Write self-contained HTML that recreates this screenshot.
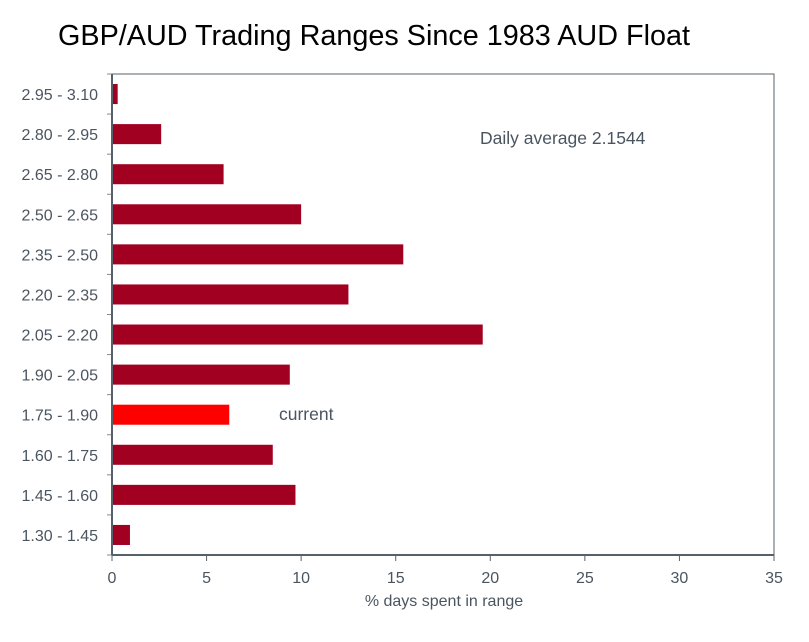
<!DOCTYPE html>
<html><head><meta charset="utf-8"><style>
body{margin:0;background:#fff;width:809px;height:637px;overflow:hidden}
svg text{font-family:"Liberation Sans",sans-serif;fill:#4a5560}
</style></head><body>
<svg id="c" width="809" height="637">
<text x="58" y="45" textLength="632" lengthAdjust="spacingAndGlyphs" style="font-size:29px;fill:#000">GBP/AUD Trading Ranges Since 1983 AUD Float</text>
</svg>
<script>
const categories=["2.95 - 3.10","2.80 - 2.95","2.65 - 2.80","2.50 - 2.65","2.35 - 2.50","2.20 - 2.35","2.05 - 2.20","1.90 - 2.05","1.75 - 1.90","1.60 - 1.75","1.45 - 1.60","1.30 - 1.45"];
const values=[0.3,2.6,5.9,10.0,15.4,12.5,19.6,9.4,6.2,8.5,9.7,0.95];
const highlight=[false,false,false,false,false,false,false,false,true,false,false,false];
const xTicks=[0,5,10,15,20,25,30,35];
const svg=document.getElementById('c');
const NS='http://www.w3.org/2000/svg';
const L=112,R=774,T=74,B=555,XMAX=35;
const x=v=>L+(v/XMAX)*(R-L);
const band=(B-T)/categories.length;
const y=i=>T+i*band;
function mk(t,a){const e=document.createElementNS(NS,t);for(const k in a)e.setAttribute(k,a[k]);svg.appendChild(e);return e;}
let f=mk('rect',{x:L,y:T,width:R-L,height:B-T,fill:'none',stroke:'#56606a','stroke-width':1});


categories.forEach((c,i)=>{
  const b=mk('rect',{x:L+1,y:y(i)+band/4,width:x(values[i])-L-1,height:band/2,fill:highlight[i]?'#ff0000':'#a10021'});
  
  
  const t=mk('text',{x:98,y:y(i)+band/2+6,'text-anchor':'end','font-size':'16'});t.textContent=c;
  
  
});
for(let i=0;i<=categories.length;i++){const l=mk('line',{x1:107,x2:L,y1:y(i),y2:y(i),stroke:'#888','stroke-width':1});
  
  }
const ax=mk('line',{x1:L,x2:R,y1:B,y2:B,stroke:'#56606a','stroke-width':2});


const ay=mk('line',{x1:L,x2:L,y1:T,y2:B,stroke:'#56606a','stroke-width':2});


xTicks.forEach(v=>{
  const l=mk('line',{x1:x(v),x2:x(v),y1:B,y2:B+6,stroke:'#56606a','stroke-width':1});
  
  
  const t=mk('text',{x:x(v),y:583,'text-anchor':'middle','font-size':'16'});t.textContent=v;
  
  
});
const xt=mk('text',{x:444,y:606,'text-anchor':'middle','font-size':'16'});xt.textContent='% days spent in range';


const a=mk('text',{x:480,y:144,'font-size':'17.5'});a.textContent='Daily average 2.1544';


const cu=mk('text',{x:279,y:420,'font-size':'17.5'});cu.textContent='current';


</script>
</body></html>
